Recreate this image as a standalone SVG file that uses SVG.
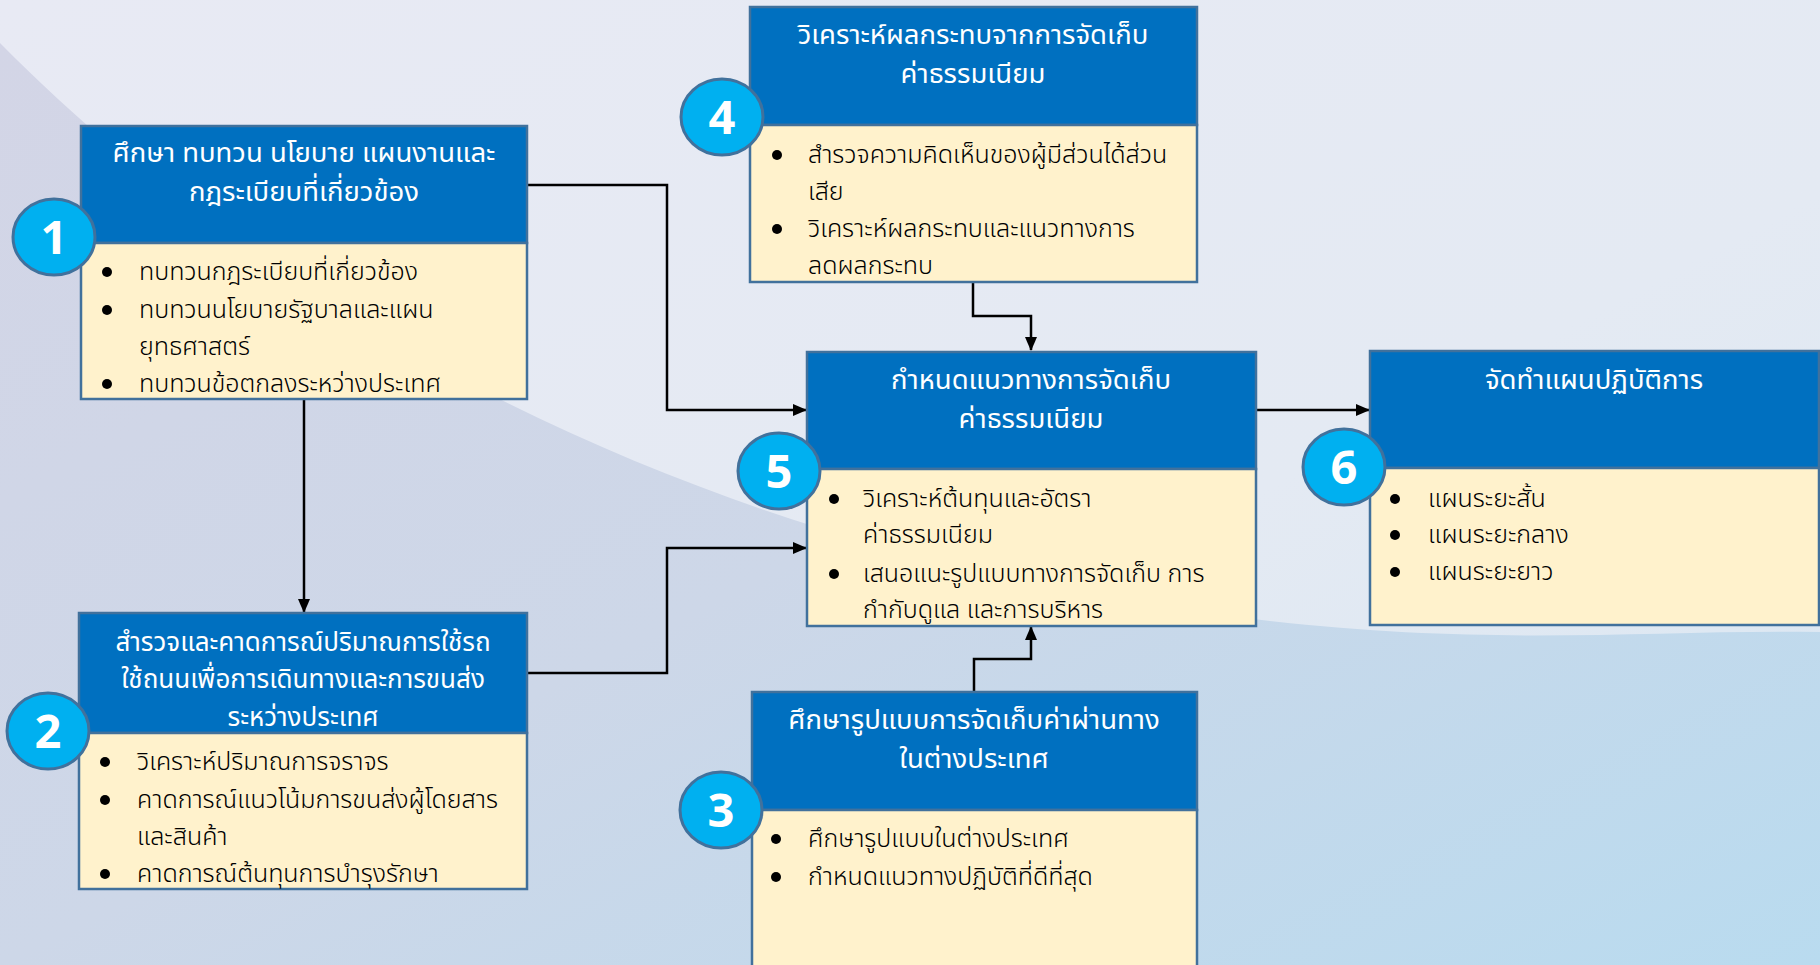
<svg xmlns="http://www.w3.org/2000/svg" width="1820" height="965" viewBox="0 0 1820 965">
<defs>
<linearGradient id="bgTop" x1="0" y1="0" x2="1" y2="1">
<stop offset="0" stop-color="#e8eaf4"/>
<stop offset="0.6" stop-color="#e4eaf3"/>
<stop offset="1" stop-color="#d8e6f2"/>
</linearGradient>
<linearGradient id="bgLow" x1="0" y1="0" x2="1" y2="1">
<stop offset="0" stop-color="#d3d5e6"/>
<stop offset="0.5" stop-color="#cdd7e8"/>
<stop offset="1" stop-color="#b9dbef"/>
</linearGradient>
<marker id="arr" markerWidth="14" markerHeight="12" refX="13" refY="6" orient="auto" markerUnits="userSpaceOnUse">
<path d="M0,0 L14,6 L0,12 Z" fill="#000"/>
</marker>
</defs>
<style>
.hdr{fill:#0070c0;stroke:#41719c;stroke-width:2.5}
.body{fill:#fff2cc;stroke:#41719c;stroke-width:2.5}
.ht{font-family:"Noto Sans Thai","Noto Sans","Liberation Sans",sans-serif;font-size:27.5px;fill:#fff;text-anchor:middle}
.ht2{font-size:26px}
.bt{font-family:"Noto Sans Thai","Noto Sans","Liberation Sans",sans-serif;font-size:25px;font-weight:300;fill:#000}
.bul{fill:#000}
.num{fill:#00b0f0;stroke:#41719c;stroke-width:3}
.nt{font-family:"Open Sans","Liberation Sans",sans-serif;font-weight:700;font-size:47px;fill:#fff;text-anchor:middle}
.con{fill:none;stroke:#000;stroke-width:2.5}
</style>
<rect x="0" y="0" width="1820" height="965" fill="url(#bgTop)"/>
<path d="M0,43 C245,292 610,492 1005,577 S1600,628 1820,632 L1820,965 L0,965 Z" fill="url(#bgLow)"/>

<g id="connectors">
<path class="con" d="M527,185 H667 V410 H806" marker-end="url(#arr)"/>
<path class="con" d="M304,399 V612" marker-end="url(#arr)"/>
<path class="con" d="M527,673 H667 V548 H806" marker-end="url(#arr)"/>
<path class="con" d="M973,282 V316 H1031 V350" marker-end="url(#arr)"/>
<path class="con" d="M974,692 V659 H1031 V627" marker-end="url(#arr)"/>
<path class="con" d="M1256,410 H1369" marker-end="url(#arr)"/>
</g>

<g id="node1">
<rect class="hdr" x="81" y="126" width="446" height="117"/>
<rect class="body" x="81" y="243" width="446" height="156"/>
<text class="ht" x="304" y="162">ศึกษา ทบทวน นโยบาย แผนงานและ</text>
<text class="ht" x="304" y="201">กฎระเบียบที่เกี่ยวข้อง</text>
<circle class="bul" cx="107" cy="272" r="5"/>
<text class="bt" x="139" y="280">ทบทวนกฎระเบียบที่เกี่ยวข้อง</text>
<circle class="bul" cx="107" cy="310" r="5"/>
<text class="bt" x="139" y="318">ทบทวนนโยบายรัฐบาลและแผน</text>
<text class="bt" x="139" y="355">ยุทธศาสตร์</text>
<circle class="bul" cx="107" cy="384" r="5"/>
<text class="bt" x="139" y="392">ทบทวนข้อตกลงระหว่างประเทศ</text>
<ellipse class="num" cx="54" cy="237" rx="41" ry="38"/>
<text class="nt" x="54" y="254">1</text>
</g>

<g id="node2">
<rect class="hdr" x="79" y="613" width="448" height="120"/>
<rect class="body" x="79" y="733" width="448" height="156"/>
<text class="ht ht2" x="303" y="650.5">สำรวจและคาดการณ์ปริมาณการใช้รถ</text>
<text class="ht ht2" x="303" y="688">ใช้ถนนเพื่อการเดินทางและการขนส่ง</text>
<text class="ht ht2" x="303" y="725.5">ระหว่างประเทศ</text>
<circle class="bul" cx="105" cy="762" r="5"/>
<text class="bt" x="137" y="770">วิเคราะห์ปริมาณการจราจร</text>
<circle class="bul" cx="105" cy="800" r="5"/>
<text class="bt" x="137" y="808">คาดการณ์แนวโน้มการขนส่งผู้โดยสาร</text>
<text class="bt" x="137" y="845">และสินค้า</text>
<circle class="bul" cx="105" cy="874" r="5"/>
<text class="bt" x="137" y="882">คาดการณ์ต้นทุนการบำรุงรักษา</text>
<ellipse class="num" cx="48" cy="731" rx="41" ry="38"/>
<text class="nt" x="48" y="748">2</text>
</g>

<g id="node4">
<rect class="hdr" x="750" y="7" width="447" height="118"/>
<rect class="body" x="750" y="125" width="447" height="157"/>
<text class="ht" x="973" y="44">วิเคราะห์ผลกระทบจากการจัดเก็บ</text>
<text class="ht" x="973" y="83">ค่าธรรมเนียม</text>
<circle class="bul" cx="777" cy="155" r="5"/>
<text class="bt" x="808" y="163">สำรวจความคิดเห็นของผู้มีส่วนได้ส่วน</text>
<text class="bt" x="808" y="200">เสีย</text>
<circle class="bul" cx="777" cy="229" r="5"/>
<text class="bt" x="808" y="237">วิเคราะห์ผลกระทบและแนวทางการ</text>
<text class="bt" x="808" y="274">ลดผลกระทบ</text>
<ellipse class="num" cx="722" cy="117" rx="41" ry="38"/>
<text class="nt" x="722" y="134">4</text>
</g>

<g id="node5">
<rect class="hdr" x="807" y="352" width="449" height="117"/>
<rect class="body" x="807" y="469" width="449" height="157"/>
<text class="ht" x="1031" y="389">กำหนดแนวทางการจัดเก็บ</text>
<text class="ht" x="1031" y="428">ค่าธรรมเนียม</text>
<circle class="bul" cx="834" cy="499" r="5"/>
<text class="bt" x="863" y="507">วิเคราะห์ต้นทุนและอัตรา</text>
<text class="bt" x="863" y="543">ค่าธรรมเนียม</text>
<circle class="bul" cx="834" cy="574" r="5"/>
<text class="bt" x="863" y="582">เสนอแนะรูปแบบทางการจัดเก็บ การ</text>
<text class="bt" x="863" y="618">กำกับดูแล และการบริหาร</text>
<ellipse class="num" cx="779" cy="471" rx="41" ry="38"/>
<text class="nt" x="779" y="488">5</text>
</g>

<g id="node6">
<rect class="hdr" x="1370" y="351" width="449" height="117"/>
<rect class="body" x="1370" y="468" width="449" height="157"/>
<text class="ht" x="1594" y="389">จัดทำแผนปฏิบัติการ</text>
<circle class="bul" cx="1395" cy="499" r="5"/>
<text class="bt" x="1428" y="507">แผนระยะสั้น</text>
<circle class="bul" cx="1395" cy="535" r="5"/>
<text class="bt" x="1428" y="543">แผนระยะกลาง</text>
<circle class="bul" cx="1395" cy="572" r="5"/>
<text class="bt" x="1428" y="580">แผนระยะยาว</text>
<ellipse class="num" cx="1344" cy="467" rx="41" ry="38"/>
<text class="nt" x="1344" y="484">6</text>
</g>

<g id="node3">
<rect class="hdr" x="752" y="692" width="445" height="118"/>
<rect class="body" x="752" y="810" width="445" height="170"/>
<text class="ht" x="974" y="729">ศึกษารูปแบบการจัดเก็บค่าผ่านทาง</text>
<text class="ht" x="974" y="768">ในต่างประเทศ</text>
<circle class="bul" cx="776" cy="839" r="5"/>
<text class="bt" x="808" y="847">ศึกษารูปแบบในต่างประเทศ</text>
<circle class="bul" cx="776" cy="877" r="5"/>
<text class="bt" x="808" y="885">กำหนดแนวทางปฏิบัติที่ดีที่สุด</text>
<ellipse class="num" cx="721" cy="810" rx="41" ry="38"/>
<text class="nt" x="721" y="827">3</text>
</g>
</svg>
